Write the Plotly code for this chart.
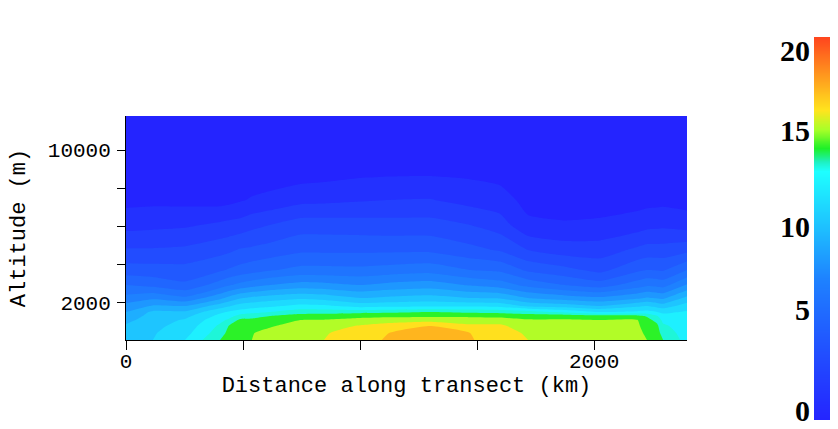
import plotly.graph_objects as go

W, H = 838, 429

distance_km = [0, 115, 252, 402, 440, 487, 538, 615, 744, 846, 1000, 1124, 1299, 1470, 1598, 1718, 1876, 2026, 2184, 2226, 2269, 2295, 2397]
altitude_m = [11778, 8640, 7386, 6078, 4771, 3726, 2941, 2261, 1843, 1529, 1320, 1111, 797, 431, 65]

# wind-speed columns, top of the section to the ground
col_0    = [0, .1, .4, 1.35, 2.8, 4.15, 5.7, 7.05, 8.05, 8.7, 9.05, 9.4, 9.85, 10.3, 10.6]
col_115  = [0, .1, .45, 1.45, 2.8, 4.1, 5.4, 7.5, 8.8, 9.9, 10.1, 10.25, 10.45, 10.6, 10.7]
col_252  = [0, .1, .4, 1.55, 2.9, 4.05, 4.9, 6.9, 8.7, 9.85, 10.4, 10.8, 11.05, 11.35, 11.7]
col_402  = [0, .05, .3, 1.9, 3.35, 4.55, 6.2, 8.45, 10.2, 11.5, 12, 12.4, 12.9, 13.25, 13.7]
col_440  = [0, .08, .4, 2, 3.5, 4.8, 6.6, 9, 10.6, 11.8, 12.3, 12.9, 13.75, 14, 14.1]
col_487  = [0, .1, .6, 2.1, 3.8, 5.05, 7, 9.6, 11.1, 12.1, 13.1, 13.9, 14.1, 14.4, 14.6]
col_538  = [0, .15, .8, 2.4, 3.9, 5.3, 7.3, 9.9, 11.3, 12.4, 13.3, 13.95, 14.3, 14.65, 14.7]
col_615  = [0, .2, 1, 2.7, 4.1, 5.6, 7.7, 10.2, 11.5, 12.7, 13.7, 14, 14.6, 15, 15.2]
col_744  = [0, .35, 1.4, 3.2, 4.5, 6, 8.1, 10.5, 12, 13.3, 14.1, 14.7, 15.1, 15.4, 15.55]
col_846  = [0, .45, 1.45, 3.2, 4.5, 6, 8, 10.3, 11.9, 13.3, 14.2, 14.75, 15.2, 15.6, 15.7]
col_1000 = [0, .62, 1.6, 3.15, 4.5, 5.95, 7.7, 9.7, 11.3, 13.4, 14.4, 15, 15.8, 16.2, 16.4]
col_1124 = [0, .68, 1.7, 3.1, 4.5, 6.1, 8, 9.9, 11.4, 13.5, 14.45, 15.2, 16.2, 16.7, 16.8]
col_1299 = [0, .7, 1.75, 3.1, 4.5, 6.3, 8.2, 10.1, 11.5, 13.7, 14.5, 15.3, 16.7, 17.1, 17.3]
col_1470 = [0, .6, 1.35, 2.7, 4, 5.7, 7.6, 9.7, 11.5, 13.5, 14.5, 15.2, 15.9, 16.7, 16.75]
col_1598 = [0, .45, 1.1, 2.2, 3.6, 5.5, 7.2, 9.6, 11.4, 13.4, 14.4, 15.2, 15.9, 16.3, 16.4]
col_1718 = [0, .2, .4, .9, 2.7, 4.5, 6.4, 8.7, 10.5, 13.2, 14.2, 14.8, 15.1, 15.5, 15.7]
col_1876 = [0, .1, .25, .8, 2.2, 4, 5.7, 8.2, 10.2, 12.5, 14.3, 14.8, 15, 15.1, 15.2]
col_2026 = [0, .1, .2, .9, 2.2, 3.4, 5.2, 7.9, 9.7, 11.7, 14.1, 14.7, 14.9, 15, 15.05]
col_2184 = [0, .1, .3, 1.2, 2.9, 4.5, 6.2, 8.5, 10.5, 11.9, 14, 14.75, 14.9, 15, 15.05]
col_2226 = [0, .1, .35, 1.4, 3.1, 4.7, 6.5, 8.8, 10.7, 12, 13.6, 14, 14.2, 14.5, 14.7]
col_2269 = [0, .1, .38, 1.45, 3.1, 4.65, 6.4, 8.6, 10.4, 11.7, 12.8, 13.4, 13.9, 14.1, 14.2]
col_2295 = [0, .1, .4, 1.5, 3.1, 4.6, 6.3, 8.5, 10.2, 11.5, 12, 12.4, 12.9, 13.3, 13.7]
col_2397 = [0, .1, .3, 1.25, 3.4, 5.7, 7.8, 10, 11.2, 11.8, 11.9, 12, 12.1, 12.2, 12.3]

columns = [col_0, col_115, col_252, col_402, col_440, col_487, col_538, col_615, col_744, col_846,
           col_1000, col_1124, col_1299, col_1470, col_1598, col_1718, col_1876, col_2026,
           col_2184, col_2226, col_2269, col_2295, col_2397]

x_tick_values = [0, 500, 1000, 1500, 2000]
x_tick_labels = ["0", "", "", "", "2000"]
y_tick_values = [2000, 4000, 6000, 8000, 10000]
y_tick_labels = ["2000", "", "", "", "10000"]

bar_values = [0, 1, 2, 3, 4, 5, 6, 7, 8, 9, 10, 11, 12, 12.5, 13, 13.4, 13.8, 14.2, 14.5, 14.8, 15.2, 15.6, 16,
              16.5, 17, 17.5, 18, 18.5, 19, 19.5, 20]
bar_tick_values = [0.5, 5.75, 10.1, 15.1, 19.3]
bar_tick_labels = ["0", "5", "10", "15", "20"]

stop_positions = [0.00, 0.15, 0.37, 0.50, 0.65, 0.675, 0.71, 0.76, 0.81, 0.86, 1.00]
stop_colors = ["rgb(36,36,255)", "rgb(34,72,255)", "rgb(30,130,255)", "rgb(30,190,255)",
               "rgb(30,255,255)", "rgb(30,240,190)", "rgb(30,240,40)", "rgb(170,255,40)",
               "rgb(255,228,30)", "rgb(255,185,30)", "rgb(255,70,30)"]
colorscale = [[p, c] for p, c in zip(stop_positions, stop_colors)]
# filled bands take a colour near their lower edge, so the contour scale leads slightly
contour_scale = [[0 if p == 0 else (1 if p == 1 else p - 0.015), c] for p, c in zip(stop_positions, stop_colors)]

asc_alt = altitude_m[::-1]
z = [[c[len(altitude_m) - 1 - i] for c in columns] for i in range(len(altitude_m))]

MONO = "Liberation Mono"
fig = go.Figure()
fig.add_trace(go.Contour(
    x=distance_km, y=asc_alt, z=z, zmin=0, zmax=20,
    colorscale=contour_scale, showscale=False,
    autocontour=False,
    contours=dict(start=0.7, end=19.7, size=1, coloring="fill", showlines=False),
    line=dict(width=0, smoothing=0.5),
    xaxis="x", yaxis="y",
))
fig.add_trace(go.Heatmap(
    x=[0, 1], y=bar_values, z=[[v, v] for v in bar_values], zmin=0, zmax=20,
    colorscale=colorscale, showscale=False, zsmooth="best",
    xaxis="x2", yaxis="y2",
))

fig.update_layout(
    width=W, height=H, autosize=False,
    margin=dict(l=0, r=0, t=0, b=0),
    paper_bgcolor="white", plot_bgcolor="white",
    showlegend=False,
    xaxis=dict(
        domain=[126 / W, 687 / W], range=[0, 2397], anchor="y", automargin=False,
        tickmode="array", tickvals=x_tick_values, ticktext=x_tick_labels,
        ticks="outside", ticklen=9, tickwidth=1, tickcolor="black", ticklabelstandoff=-7,
        showline=True, linecolor="black", linewidth=1, showgrid=False, zeroline=False,
        tickfont=dict(family=MONO, size=21, color="black"),
        title=dict(text="Distance along transect (km)", standoff=3,
                   font=dict(family=MONO, size=22, color="black")),
    ),
    yaxis=dict(
        domain=[(H - 340) / H, (H - 116) / H], range=[65, 11778], anchor="x", automargin=False,
        tickmode="array", tickvals=y_tick_values, ticktext=y_tick_labels,
        ticks="outside", ticklen=8, tickwidth=1, tickcolor="black", ticklabelstandoff=2,
        showline=True, linecolor="black", linewidth=1, showgrid=False, zeroline=False,
        tickfont=dict(family=MONO, size=21, color="black"),
        title=dict(text="Altitude (m)", standoff=16,
                   font=dict(family=MONO, size=22, color="black")),
    ),
    xaxis2=dict(domain=[814 / W, 830 / W], range=[0, 1], anchor="y2", visible=False, automargin=False),
    yaxis2=dict(
        domain=[(H - 420) / H, (H - 37) / H], range=[0, 20], anchor="x2", side="left", automargin=False,
        tickmode="array", tickvals=bar_tick_values, ticktext=bar_tick_labels,
        ticks="", ticklabelstandoff=3, showline=False, showgrid=False, zeroline=False,
        tickfont=dict(family="Liberation Serif", size=30, color="black", weight="bold"),
    ),
)

fig.write_html("out.html", config={"displayModeBar": False}, post_script="document.body.style.margin='0';")
